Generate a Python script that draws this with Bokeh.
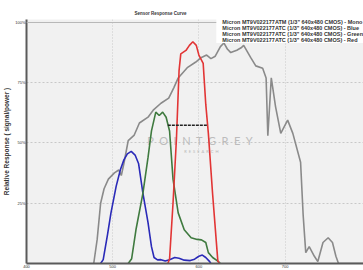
from bokeh.plotting import figure
from bokeh.models import Range1d, Legend, LegendItem, FixedTicker, CustomJSTickFormatter, Title, Span
from bokeh.core.properties import value
from bokeh.embed import file_html
from bokeh.resources import INLINE

# ---- data (wavelength nm, relative response %) ----
mono_nm = [478, 482, 486, 490, 495, 502, 507, 510, 513, 518, 525, 531, 541, 547, 556, 565, 571, 576, 587,
           596, 603, 609, 614, 619, 625, 629, 633, 637, 644, 649, 652, 656, 660, 666, 674, 678, 680, 684,
           689, 695, 703, 709, 718, 721, 724, 728, 734, 738, 744, 750, 755, 759, 762, 795]
mono_val = [0, 10, 25, 31, 35, 37.6, 38.8, 36.5, 41.5, 51, 53.3, 58.3, 60.7, 63.6, 66.5, 68.6, 73, 77, 81.4,
            83.5, 85.5, 86.5, 85, 86, 90, 91.5, 89, 87.5, 88.5, 89.5, 90.5, 88, 85.5, 82, 81, 77, 53, 77,
            65, 54, 59.5, 54, 42, 20, 4.5, 7, 3, 0.8, 8.7, 10.7, 8.7, 3, 0, 0]

blue_nm = [486, 489, 494, 498, 504, 509, 513, 517, 521.5, 526, 530, 535, 541, 545, 548, 552, 556, 561,
           566, 572, 577, 583, 590, 595, 600, 604, 608, 612, 614]
blue_val = [0, 1.6, 12, 21, 32, 39, 43, 45.5, 46.5, 45, 41.5, 29.3, 17, 7, 2.5, 1.5, 1.6, 1,
            1.6, 2.5, 2.2, 1.4, 1.2, 1.8, 3, 3.5, 2.5, 1, 0]

green_nm = [518, 522, 527, 535, 541, 545, 550, 554, 558, 562, 566, 570, 576, 583, 591, 598, 603, 608,
            611, 616, 622, 625]
green_val = [0, 2, 14, 29, 44, 55, 62.8, 61.4, 62.8, 60.7, 55, 35, 21, 14, 10.7, 10, 9.8, 8.7,
             4.5, 2.5, 1, 0]

red_nm = [564, 566, 570, 574, 577, 579, 585, 589, 593, 597, 600, 605, 608, 611, 616, 622, 624]
red_val = [0, 2, 25, 52, 80, 87, 88.4, 90.5, 92, 90.5, 86.5, 83, 66, 54, 28.5, 1, 0]

x_ticks = [400, 500, 600, 700]
y_ticks = [25, 50, 75, 100]

series_labels = [
    'Micron MT9V022177ATM (1/3" 640x480 CMOS) - Mono',
    'Micron MT9V022177ATC (1/3" 640x480 CMOS) - Blue',
    'Micron MT9V022177ATC (1/3" 640x480 CMOS) - Green',
    'Micron MT9V022177ATC (1/3" 640x480 CMOS) - Red',
]
series_colors = ["#8a8a8a", "#2a2ab8", "#3f7a3f", "#e23535"]

p = figure(width=363, height=270, output_backend="svg", toolbar_location=None,
           x_range=Range1d(400, 791), y_range=Range1d(0, 101.24),
           min_border_left=25, min_border_right=0, min_border_top=19, min_border_bottom=6)

p.title = Title(text="Sensor Response Curve", align="left", offset=108, standoff=7,
                text_font_size="4.5px", text_font_style="bold", text_color="#333333")

p.background_fill_color = "#f1f1f1"
p.border_fill_color = "white"
p.outline_line_color = None

# axes
for ax in (p.xaxis[0], p.yaxis[0]):
    ax.axis_line_color = "#5a5a5a"
    ax.axis_line_width = 2
    ax.major_tick_line_color = None
    ax.minor_tick_line_color = None
    ax.major_tick_out = 0
    ax.major_tick_in = 0
    ax.major_label_text_font_size = "4px"
    ax.major_label_text_color = "#333333"
    ax.major_label_standoff = 1
p.xaxis.ticker = FixedTicker(ticks=x_ticks)
p.yaxis.ticker = FixedTicker(ticks=y_ticks)
p.yaxis.formatter = CustomJSTickFormatter(code="return tick + '%';")
p.yaxis.axis_label = "Relative Response ( signal/power )"
p.yaxis.axis_label_text_font_size = "6.5px"
p.yaxis.axis_label_text_font_style = "bold"
p.yaxis.axis_label_text_color = "#333333"
p.yaxis.axis_label_standoff = 2

p.xgrid.grid_line_color = "#c8c8c8"
p.xgrid.grid_line_dash = "1 2"
p.ygrid.grid_line_color = "#c8c8c8"
p.ygrid.grid_line_dash = "2 2"
p.add_layout(Span(location=100, dimension="width", line_color="#b8b8b8", line_width=1))

# watermark
p.text(x=[540], y=[48.5], text=["P\u2002O\u2002I\u2002N\u2002T\u2002G\u2002R\u2002E\u2002Y"],
       text_font=value("Lato"), text_font_size="11px", text_color="#bcbcbc", text_baseline="bottom")
p.text(x=[583], y=[45.3], text=["R\u2002E\u2002S\u2002E\u2002A\u2002R\u2002C\u2002H"],
       text_font=value("Lato"), text_font_size="4px", text_color="#b8b8b8", text_baseline="bottom")

# curves
curves = [(mono_nm, mono_val), (blue_nm, blue_val), (green_nm, green_val), (red_nm, red_val)]
for (xs, ys), c in zip(curves, series_colors):
    p.line(xs, ys, line_color=c, line_width=1.6)

# dashed marker
p.segment(x0=[564], y0=[57.4], x1=[610], y1=[57.4], line_color="#222222", line_width=1.5, line_dash="3 1")

# legend
items = []
for lab, c in zip(series_labels, series_colors):
    r = p.scatter(x=[], y=[], marker="square", size=4, color=c)
    items.append(LegendItem(label=lab, renderers=[r]))
legend = Legend(items=items, location="top_right", label_text_font_size="5.5px",
                label_text_font_style="bold", label_text_color="#333333",
                label_height=4, glyph_height=4, glyph_width=4, label_standoff=2,
                spacing=0, padding=1, margin=0, border_line_color=None,
                background_fill_color="white", background_fill_alpha=1)
p.add_layout(legend)

open("out.html", "w").write(file_html(p, INLINE))
